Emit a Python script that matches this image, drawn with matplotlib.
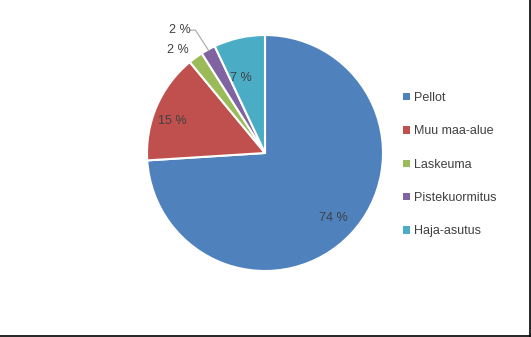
import matplotlib
matplotlib.use("Agg")
import matplotlib.pyplot as plt
from matplotlib.lines import Line2D
from matplotlib.patches import Patch
import numpy as np

categories = ["Pellot", "Muu maa-alue", "Laskeuma", "Pistekuormitus", "Haja-asutus"]
shares = [74, 15, 2, 2, 7]
colors = ["#4F81BD", "#C0504D", "#9BBB59", "#8064A2", "#4BACC6"]
# percent label placement: fraction of radius and angle nudge (degrees)
label_radius = [0.79, 0.84, 1.16, 1.28, 0.68]
label_nudge = [0.4, 3.3, 3.6, 5.4, 4.7]

plt.rcParams["font.family"] = ["Liberation Sans", "DejaVu Sans"]
text_color = "#404040"

fig = plt.figure(figsize=(5.31, 3.37), dpi=100)
W, H = 531, 337
cx, cy, r = 265, 153, 118
ax = fig.add_axes([(cx - r) / W, (H - cy - r) / H, 2 * r / W, 2 * r / H])

wedges, _ = ax.pie(shares, colors=colors, startangle=90, counterclock=False,
                   radius=1, wedgeprops=dict(edgecolor="white", linewidth=1.5))
ax.set_xlim(-1, 1)
ax.set_ylim(-1, 1)
ax.set_aspect("equal")
ax.axis("off")

for w, val, lr, nd in zip(wedges, shares, label_radius, label_nudge):
    mid = (w.theta1 + w.theta2) / 2
    a = np.deg2rad(mid + nd)
    x, y = lr * np.cos(a), lr * np.sin(a) - 0.017
    ax.text(x, y, f"{val} %", ha="center", va="center", fontsize=9,
            color=text_color, clip_on=False)
    if lr > 1.2:
        m = np.deg2rad(mid)
        ax.plot([x + 0.08, x + 0.13, 0.99 * np.cos(m)],
                [y, y, 0.99 * np.sin(m)],
                color="#A6A6A6", linewidth=0.8, clip_on=False)

handles = [Patch(facecolor=c, edgecolor="none") for c in colors]
leg = fig.legend(handles, categories, loc="upper left",
                 bbox_to_anchor=(398 / W, 1 - 87 / H), frameon=False,
                 fontsize=9, handlelength=0.55, handleheight=0.55,
                 handletextpad=0.3, labelspacing=1.71, borderaxespad=0)
for t in leg.get_texts():
    t.set_color(text_color)

fig.add_artist(Line2D([529.5 / W, 529.5 / W], [1.5 / H, 1], color="black",
                      linewidth=1.2, transform=fig.transFigure))
fig.add_artist(Line2D([0, 529.5 / W], [1.5 / H, 1.5 / H], color="black",
                      linewidth=1.2, transform=fig.transFigure))

fig.savefig("out.png", dpi=100, facecolor="white")
